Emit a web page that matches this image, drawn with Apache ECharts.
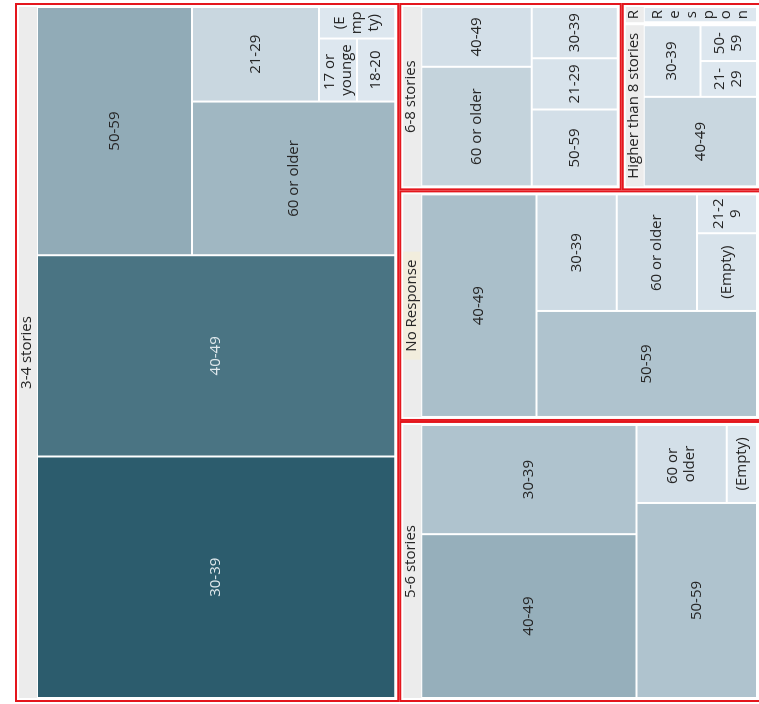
<!DOCTYPE html>
<html>
<head>
<meta charset="utf-8">
<script src="https://cdn.jsdelivr.net/npm/echarts@6/dist/echarts.min.js"></script>
<style>
  html, body { margin: 0; padding: 0; background: #ffffff; width: 759px; height: 704px; overflow: hidden; }
  #chart { position: absolute; left: 0; top: 0; width: 704px; height: 772px;
           transform-origin: 0 0; transform: translateY(704px) rotate(-90deg); }
</style>
</head>
<body>
<div id="chart"></div>
<script>
// ---- data (counts per building height and age group) ----
const storyGroups = ['3-4 stories', '5-6 stories', 'No Response', '6-8 stories', 'Higher than 8 stories', 'Response'];

const ages34 = ['30-39', '40-49', '50-59', '60 or older', '21-29', '17 or younger', '18-20', '(Empty)'];
const counts34 = [36, 30, 16, 13, 5, 1, 1, 1];

const ages56 = ['40-49', '30-39', '50-59', '60 or older', '(Empty)'];
const counts56 = [15, 10, 10, 3, 1];

const agesNR = ['40-49', '50-59', '30-39', '60 or older', '(Empty)', '21-29'];
const countsNR = [11, 10, 4, 4, 2, 1];

const ages68 = ['60 or older', '40-49', '50-59', '21-29', '30-39'];
const counts68 = [6, 3, 3, 2, 2];

const agesH8 = ['40-49', '30-39', '21-29', '50-59'];
const countsH8 = [5, 2, 1, 1];

const agesR = ['Response'];
const countsR = [1];

// annotation boxes (red outlines) grouping the story groups
const annotationBoxes = [
  ['3-4 stories'],
  ['5-6 stories'],
  ['No Response'],
  ['6-8 stories'],
  ['Higher than 8 stories', 'Response']
];

const leavesByGroup = {
  '3-4 stories': [ages34, counts34],
  '5-6 stories': [ages56, counts56],
  'No Response': [agesNR, countsNR],
  '6-8 stories': [ages68, counts68],
  'Higher than 8 stories': [agesH8, countsH8],
  'Response': [agesR, countsR]
};

const FONT = 'Open Sans';
const RED = '#e4161d';

function buildGroup(name) {
  const [ages, counts] = leavesByGroup[name];
  return {
    name: name,
    children: ages.map((a, i) => ({
      name: a,
      value: counts[i],
      label: {
        color: counts[i] >= 25 ? '#dfe8ec' : '#262626',
        // multi-word names wrap at spaces, single tokens wrap at any character
        overflow: a.indexOf(' ') >= 0 ? 'break' : 'breakAll'
      }
    }))
  };
}

// red box -> white padding -> building-height group -> age leaves
const data = annotationBoxes.map((box, k) => ({
  name: 'box' + k,
  children: [{
    name: 'pad' + k,
    children: box.map(buildGroup)
  }]
}));

const chart = echarts.init(document.getElementById('chart'), null, { renderer: 'canvas' });
chart.setOption({
  animation: false,
  tooltip: { show: false },
  series: [{
    type: 'treemap',
    left: 2, top: 15, width: 699, height: 746,
    roam: false,
    nodeClick: false,
    sort: false,
    squareRatio: 1,
    breadcrumb: { show: false },
    data: data,
    emphasis: { disabled: true },
    label: {
      show: true,
      position: 'inside',
      fontFamily: FONT,
      fontSize: 15,
      lineHeight: 17,
      overflow: 'break',
      padding: [0, 3],
      align: 'center',
      verticalAlign: 'middle'
    },
    levels: [
      { itemStyle: { borderWidth: 0, gapWidth: 0, borderColor: '#ffffff' } },
      { // red annotation boxes
        itemStyle: { borderColor: RED, borderWidth: 2, gapWidth: 0 },
        upperLabel: { show: false }
      },
      { // white padding inside the red boxes
        itemStyle: { borderColor: '#ffffff', borderWidth: 2, gapWidth: 3 },
        upperLabel: { show: false }
      },
      { // building height groups
        color: ['#dde7ef', '#2c5c6d'],
        colorMappingBy: 'value',
        visualMin: 1,
        visualMax: 36,
        itemStyle: { borderColor: '#ffffff', borderWidth: 0, gapWidth: 0 },
        upperLabel: {
          show: true,
          height: 18,
          position: 'inside',
          align: 'center',
          verticalAlign: 'middle',
          color: '#262626',
          fontFamily: FONT,
          fontSize: 15,
          backgroundColor: '#ececec',
          ellipsis: '',
          formatter: p => p.name === 'No Response' ? '{hl|' + p.name + '}' : p.name,
          rich: {
            hl: { backgroundColor: '#f2eddd', padding: [1, 8], color: '#262626', fontFamily: FONT, fontSize: 15 }
          }
        }
      },
      { // age leaves
        itemStyle: { borderColor: '#ffffff', borderWidth: 1, gapWidth: 0 }
      }
    ]
  }]
});
</script>
</body>
</html>
